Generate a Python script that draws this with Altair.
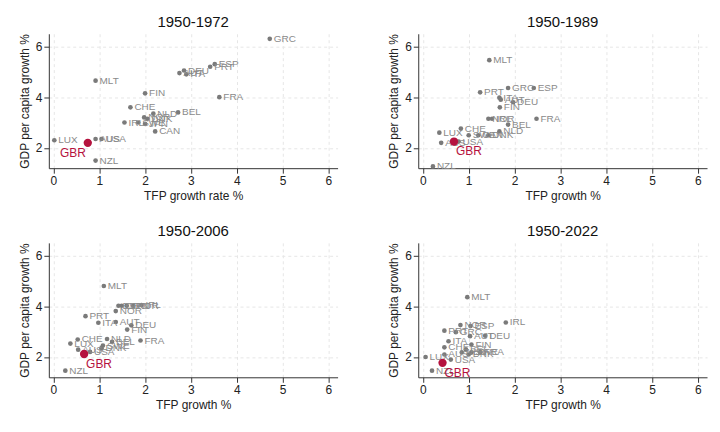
import pandas as pd
import altair as alt

# 1950-1972
c72 = ["GRC", "ESP", "PRT", "DEU", "AUT", "ITA", "MLT", "FIN", "FRA", "CHE", "NLD", "BEL",
       "NOR", "DNK", "IRL", "SWE", "JPN", "CAN", "LUX", "AUS", "USA", "NZL", "GBR"]
x72 = [4.72, 3.52, 3.42, 2.85, 2.75, 2.9, 0.92, 2.0, 3.62, 1.68, 2.18, 2.72,
       1.98, 2.05, 1.55, 1.85, 2.0, 2.22, 0.02, 0.92, 1.05, 0.92, 0.75]
y72 = [6.3, 5.3, 5.2, 5.05, 4.95, 4.9, 4.65, 4.15, 4.0, 3.6, 3.35, 3.4,
       3.2, 3.15, 3.0, 3.0, 2.95, 2.65, 2.3, 2.35, 2.35, 1.5, 2.2]

# 1950-1989
c89 = ["MLT", "GRC", "ESP", "PRT", "ITA", "AUT", "DEU", "FIN", "NOR", "IRL", "FRA", "BEL",
       "NLD", "CHE", "LUX", "SWE", "CAN", "DNK", "AUS", "USA", "NZL", "GBR"]
x89 = [1.45, 1.86, 2.42, 1.25, 1.67, 1.7, 1.97, 1.68, 1.43, 1.51, 2.48, 1.86,
       1.67, 0.83, 0.36, 1.0, 1.21, 1.43, 0.4, 0.78, 0.22, 0.68]
y89 = [5.46, 4.36, 4.36, 4.19, 3.98, 3.9, 3.8, 3.6, 3.15, 3.15, 3.15, 2.92,
       2.65, 2.76, 2.6, 2.5, 2.5, 2.5, 2.2, 2.25, 1.27, 2.25]

# 1950-2006
c06 = ["MLT", "ESP", "GRC", "JPN", "KOR", "IRL", "NOR", "PRT", "ITA", "AUT", "DEU", "FIN",
       "FRA", "CHE", "NLD", "BEL", "LUX", "SWE", "DNK", "AUS", "USA", "NZL", "GBR"]
x06 = [1.1, 1.42, 1.49, 1.6, 1.74, 1.92, 1.36, 0.7, 0.98, 1.36, 1.7, 1.61,
       1.9, 0.53, 1.17, 1.28, 0.37, 1.08, 1.05, 0.54, 0.8, 0.26, 0.67]
y06 = [4.8, 4.02, 4.02, 4.02, 4.02, 4.05, 3.81, 3.61, 3.35, 3.38, 3.25, 3.08,
       2.65, 2.69, 2.71, 2.6, 2.53, 2.45, 2.35, 2.29, 2.2, 1.46, 2.12]

# 1950-2022
c22 = ["MLT", "IRL", "NOR", "ESP", "PRT", "GRC", "AUT", "DEU", "ITA", "FIN", "CHE", "FRA",
       "BEL", "NLD", "SWE", "DNK", "LUX", "AUS", "USA", "NZL", "GBR"]
x22 = [0.97, 1.81, 0.82, 1.04, 0.47, 0.72, 1.03, 1.36, 0.56, 1.06, 0.47, 1.25,
       0.94, 0.85, 1.06, 1.0, 0.06, 0.47, 0.61, 0.2, 0.43]
y22 = [4.36, 3.36, 3.26, 3.22, 3.04, 2.98, 2.82, 2.84, 2.62, 2.49, 2.38, 2.19,
       2.3, 2.18, 2.18, 2.1, 2.0, 2.1, 1.9, 1.46, 1.77]

GREY = "#7a7a7a"
RED = "#b5123e"
FONT = "Liberation Sans"


def panel(title, codes, xs, ys, xtitle, gbr_align, gbr_dx):
    df = pd.DataFrame({"code": codes, "tfp": xs, "gdp": ys})
    base = alt.Chart(df).encode(
        x=alt.X("tfp:Q", title=xtitle, scale=alt.Scale(domain=[-0.1, 6.2], nice=False),
                axis=alt.Axis(values=[0, 1, 2, 3, 4, 5, 6], grid=True, gridDash=[3, 3],
                              gridColor="#e6e6e6", domainColor="#333", tickColor="#333")),
        y=alt.Y("gdp:Q", title="GDP per capita growth %",
                scale=alt.Scale(domain=[1.2, 6.5], nice=False),
                axis=alt.Axis(values=[2, 4, 6], grid=True, gridDash=[3, 3],
                              gridColor="#e6e6e6", domainColor="#333", tickColor="#333")),
    )
    others = base.transform_filter(alt.datum.code != "GBR")
    gbr = base.transform_filter(alt.datum.code == "GBR")
    pts = others.mark_circle(size=22, color=GREY, opacity=1)
    txt = others.mark_text(align="left", dx=4, fontSize=10, color="#8a8a8a", font=FONT).encode(text="code:N")
    gpt = gbr.mark_circle(size=70, color=RED, opacity=1)
    gtx = gbr.mark_text(align=gbr_align, dx=gbr_dx, dy=10, fontSize=12, color=RED, font=FONT).encode(text="code:N")
    return (pts + txt + gpt + gtx).properties(
        width=290, height=135,
        title=alt.TitleParams(title, fontSize=15, fontWeight="normal", font=FONT, color="#111"),
    )


p1 = panel("1950-1972", c72, x72, y72, "TFP growth rate %", "right", -2)
p2 = panel("1950-1989", c89, x89, y89, "TFP growth %", "left", 2)
p3 = panel("1950-2006", c06, x06, y06, "TFP growth %", "left", 2)
p4 = panel("1950-2022", c22, x22, y22, "TFP growth %", "left", 2)

chart = alt.vconcat(
    alt.hconcat(p1, p2, spacing=50),
    alt.hconcat(p3, p4, spacing=50),
    spacing=22,
).configure_view(stroke=None).configure_axis(
    labelFont=FONT, titleFont=FONT, labelFontSize=12, titleFontSize=12,
    titleFontWeight="normal", labelColor="#222", titleColor="#222",
).properties(background="white", padding={"left": 10, "top": 5, "right": 5, "bottom": 5})

chart.save("out.html", embed_options={"renderer": "svg", "actions": False})
